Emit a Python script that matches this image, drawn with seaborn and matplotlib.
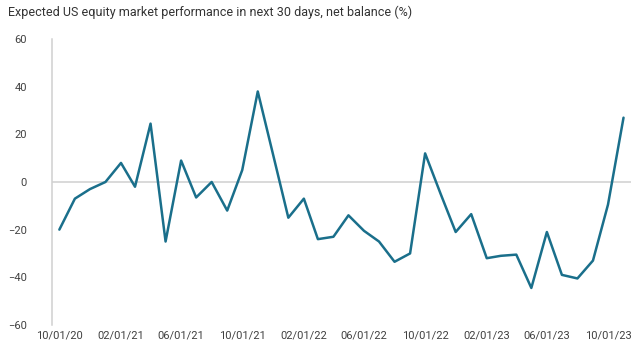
import matplotlib
matplotlib.use("Agg")
import matplotlib.pyplot as plt
import matplotlib.dates as mdates
import numpy as np
import pandas as pd
import seaborn as sns

# Monthly survey values, Oct 2020 - Nov 2023
dates = pd.date_range("2020-10-01", periods=38, freq="MS")
net_balance = [-20, -7, -3, 0, 8, -2, 24.5, -25, 9, -6.5,
               0, -12, 5, 38, 12, -15, -7, -24, -23, -14,
               -20.5, -25, -33.5, -30, 12, -5, -21, -13.5, -32, -31,
               -30.5, -44.5, -21, -39, -40.5, -33, -9.5, 27]
title = "Expected US equity market performance in next 30 days, net balance (%)"

df = pd.DataFrame({"date": dates, "value": net_balance})

sns.set_style("white")
plt.rcParams["font.family"] = ["Roboto", "DejaVu Sans"]

fig = plt.figure(figsize=(6.4, 3.52), dpi=100)
ax = fig.add_axes([0.081, 0.077, 0.905, 0.812])

ax.axhline(0, color="#cfcfcf", linewidth=1.1, zorder=1)
sns.lineplot(data=df, x="date", y="value", ax=ax, color="#1a6f8b",
             linewidth=1.8, zorder=3)

ax.set_ylim(-60, 60)
ax.set_yticks(np.arange(-60, 61, 20))
ax.set_xlim(pd.Timestamp("2020-09-16"), pd.Timestamp("2023-11-16"))
ax.xaxis.set_major_locator(mdates.MonthLocator(bymonth=[2, 6, 10]))
ax.xaxis.set_major_formatter(mdates.DateFormatter("%m/%d/%y"))

ax.set_xlabel("")
ax.set_ylabel("")
for s in ["top", "right", "bottom"]:
    ax.spines[s].set_visible(False)
ax.spines["left"].set_color("#d0d0d0")
ax.spines["left"].set_linewidth(1.1)
ax.tick_params(axis="both", length=0, labelsize=8, labelcolor="#404040")
ax.tick_params(axis="y", pad=18)
ax.tick_params(axis="x", pad=4)

fig.text(0.012, 0.965, title, fontsize=9, color="#333333", va="center", ha="left")

fig.savefig("out.png", dpi=100)
